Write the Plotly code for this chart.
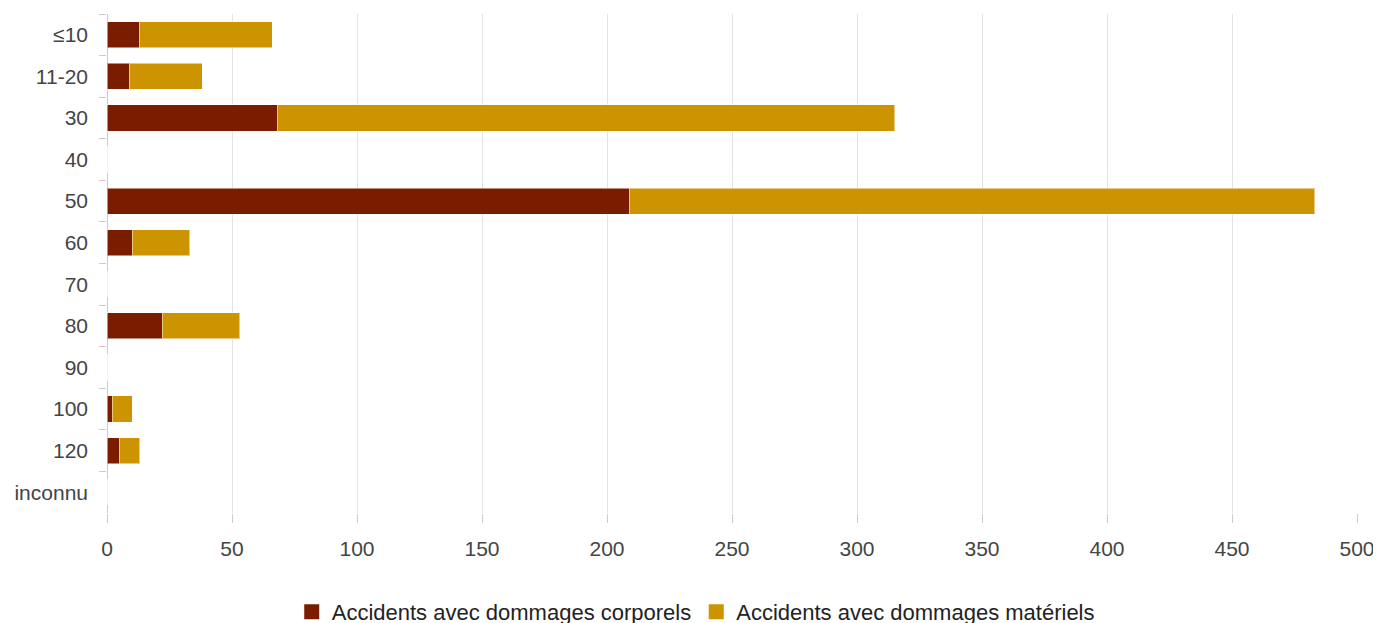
import plotly.graph_objects as go

categories = ["≤10", "11-20", "30", "40", "50", "60", "70", "80", "90", "100", "120", "inconnu"]
corporels = [13, 9, 68, 0, 209, 10, 0, 22, 0, 2, 5, 0]
materiels = [53, 29, 247, 0, 274, 23, 0, 31, 0, 8, 8, 0]
x_ticks = [0, 50, 100, 150, 200, 250, 300, 350, 400, 450, 500]
series_names = ["Accidents avec dommages corporels", "Accidents avec dommages matériels"]
series_colors = ["#7a1c00", "#cc9400"]

font_family = "Liberation Sans, Arial, sans-serif"

fig = go.Figure()
for vals, name, color in zip([corporels, materiels], series_names, series_colors):
    fig.add_trace(go.Bar(
        y=categories, x=vals, orientation="h", name=name, showlegend=False,
        marker=dict(color=color, line=dict(color="rgba(255,255,255,0.5)", width=1)),
    ))
# legend entries with square swatches
for name, color in zip(series_names, series_colors):
    fig.add_trace(go.Scatter(
        x=[None], y=[None], mode="markers", name=name, showlegend=True,
        marker=dict(symbol="square", size=15, color=color),
    ))

# page body has an 8px margin, so the figure is offset by 8px
fig.update_layout(
    barmode="stack",
    bargap=0.37,
    width=1381, height=623,
    margin=dict(l=99, r=32, t=6, b=118, autoexpand=False),
    paper_bgcolor="white", plot_bgcolor="white",
    font=dict(family=font_family, size=21, color="#444444"),
    legend=dict(
        orientation="h", xref="container", x=0.498, xanchor="center",
        yref="container", y=0.0305, yanchor="middle",
        font=dict(size=22, color="#222222"), traceorder="normal",
        itemsizing="trace",
    ),
    showlegend=True,
)
fig.update_xaxes(
    range=[0, 500], tickvals=x_ticks, ticktext=[str(v) for v in x_ticks],
    showgrid=True, gridcolor="#e3e3e3", gridwidth=1,
    zeroline=True, zerolinecolor="#cccccc", zerolinewidth=1,
    ticks="outside", ticklen=9, tickcolor="#cccccc",
    showline=False, tickfont=dict(size=21, color="#444444"),
    ticklabelstandoff=8, automargin=False,
)
fig.update_yaxes(
    autorange="reversed", type="category",
    tickson="boundaries", ticks="outside", ticklen=7, tickcolor="#cccccc",
    showgrid=False, showline=False,
    tickfont=dict(size=21, color="#444444"),
    ticklabelstandoff=18, automargin=False,
)

fig.write_html("out.html")
